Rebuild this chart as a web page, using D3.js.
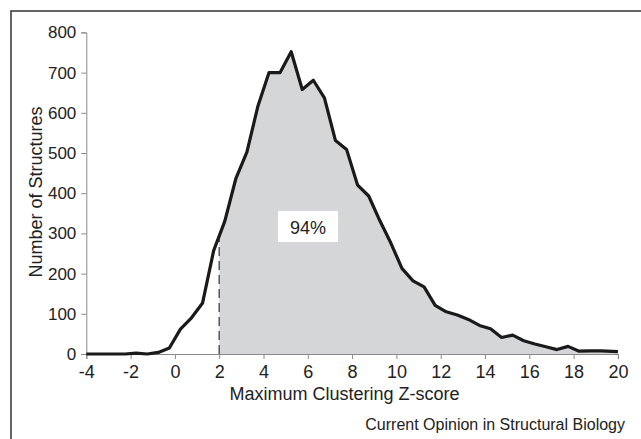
<!DOCTYPE html>
<html><head><meta charset="utf-8">
<script src="https://cdn.jsdelivr.net/npm/d3@7"></script>
<style>body{margin:0;background:#fff} svg{display:block} text{font-family:"Liberation Sans",Arial,sans-serif}</style>
</head><body><svg id="c" width="641" height="439"></svg>
<script>
const zScores = [-4, -3.25, -2.75, -2.25, -1.75, -1.25, -0.75, -0.25, 0.25, 0.75, 1.25, 1.75, 2.25, 2.75, 3.25, 3.75, 4.25, 4.75, 5.25, 5.75, 6.25, 6.75, 7.25, 7.75, 8.25, 8.75, 9.25, 9.75, 10.25, 10.75, 11.25, 11.75, 12.25, 12.75, 13.25, 13.75, 14.25, 14.75, 15.25, 15.75, 16.25, 16.75, 17.25, 17.75, 18.25, 18.75, 19.25, 20];
const counts = [0, 0, 0, 0, 2, 0, 4, 15, 62, 90, 127, 257, 330, 436, 502, 617, 700, 700, 752, 658, 681, 637, 531, 509, 420, 393, 332, 276, 213, 182, 167, 121, 105, 97, 86, 71, 63, 41, 47, 33, 25, 18, 11, 19, 7, 8, 8, 6];
const xTicks = [-4, -2, 0, 2, 4, 6, 8, 10, 12, 14, 16, 18, 20];
const yTicks = [0, 100, 200, 300, 400, 500, 600, 700, 800];
const threshold = 2;
const shareLabel = "94%";
const xTitle = "Maximum Clustering Z-score";
const yTitle = "Number of Structures";
const credit = "Current Opinion in Structural Biology";

const svg = d3.select("#c");
const x = d3.scaleLinear().domain([-4, 20]).range([86.3, 617.9]);
const y = d3.scaleLinear().domain([0, 800]).range([354, 32.4]);

svg.append("path").attr("d", "M11,439V11H641").attr("fill", "none").attr("stroke", "#333").attr("stroke-width", 1.5);

const data = zScores.map((z, i) => ({z, c: counts[i]}));
const k = data.findIndex(d => d.z >= threshold);
const a = data[k - 1], b = data[k];
const cT = a.c + (b.c - a.c) * (threshold - a.z) / (b.z - a.z);
const fillData = [{z: threshold, c: 0}, {z: threshold, c: cT}].concat(data.slice(k));

svg.append("path").datum(fillData)
  .attr("d", d3.area().x(d => x(d.z)).y0(y(0)).y1(d => y(d.c)))
  .attr("fill", "#d5d6d8");

const gx = svg.append("g").attr("transform", `translate(0,${y(0)})`)
  .call(d3.axisBottom(x).tickValues(xTicks).tickSize(5).tickPadding(6.5).tickFormat(d3.format("d")));
const gy = svg.append("g").attr("transform", `translate(${x(-4)},0)`)
  .call(d3.axisLeft(y).tickValues(yTicks).tickSize(5).tickPadding(5));
[gx, gy].forEach(g => {
  g.select(".domain").attr("stroke", "#8a8a8a");
  g.selectAll(".tick line").attr("stroke", "#8a8a8a");
  g.selectAll(".tick text").attr("fill", "#222").style("font-family", '"Liberation Sans",Arial,sans-serif');
});
gx.selectAll(".tick text").style("font-size", "18px").text(d => d < 0 ? "-" + Math.abs(d) : d);
gy.selectAll(".tick text").style("font-size", "17px");

svg.append("line")
  .attr("x1", x(threshold)).attr("x2", x(threshold))
  .attr("y1", y(0)).attr("y2", y(cT))
  .attr("stroke", "#555").attr("stroke-width", 1.5).attr("stroke-dasharray", "9,5");

svg.append("path").datum(data)
  .attr("d", d3.line().x(d => x(d.z)).y(d => y(d.c)))
  .attr("fill", "none").attr("stroke", "#1a1a1a").attr("stroke-width", 3.2).attr("stroke-linejoin", "round");

svg.append("rect").attr("x", 278).attr("y", 211).attr("width", 60).attr("height", 31).attr("fill", "#fff");
svg.append("text").attr("x", 308).attr("y", 233.5).attr("text-anchor", "middle")
  .style("font-size", "18px").attr("fill", "#222").text(shareLabel);

svg.append("text").attr("x", 344.5).attr("y", 399.5).attr("text-anchor", "middle")
  .style("font-size", "18px").attr("fill", "#222").text(xTitle);
svg.append("text").attr("transform", "translate(41.5,192) rotate(-90)").attr("text-anchor", "middle")
  .style("font-size", "18px").attr("fill", "#222").text(yTitle);
svg.append("text").attr("x", 625).attr("y", 429.7).attr("text-anchor", "end")
  .style("font-size", "16px").attr("fill", "#222").text(credit);
</script></body></html>
